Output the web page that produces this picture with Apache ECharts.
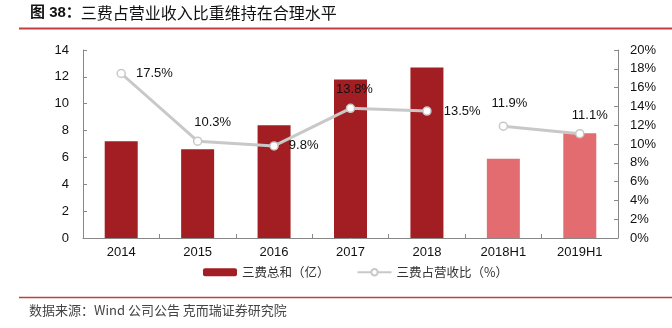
<!DOCTYPE html>
<html><head><meta charset="utf-8">
<script src="https://cdn.jsdelivr.net/npm/echarts@6/dist/echarts.min.js"></script>
<style>html,body{margin:0;padding:0;background:#fff}#c{width:672px;height:328px}</style>
</head><body><div id="c"></div>
<script>
const categories = ['2014','2015','2016','2017','2018','2018H1','2019H1'];
const expenseTotal = [7.2, 6.6, 8.4, 11.8, 12.7, 5.9, 7.8];
const expenseRatioAnnual = [17.5, 10.3, 9.8, 13.8, 13.5, null, null];
const expenseRatioHalf = [null, null, null, null, null, 11.9, 11.1];
const leftTicks = {min: 0, max: 14, interval: 2};
const rightTicks = {min: 0, max: 20, interval: 2};

const DARK = '#A21E23', LIGHT = '#E36C71', LINE = '#C8C8C8';
const labelCfg = [
  {position: 'right', distance: 10},
  {position: 'top', offset: [15, 0], distance: 8},
  {position: 'right', distance: 10},
  {position: 'top', offset: [4, 0], distance: 8},
  {position: 'right', distance: 12},
  {position: 'top', offset: [6, -3], distance: 8},
  {position: 'top', offset: [10, 0], distance: 7}
];
function lineData(arr){
  return arr.map((v,i)=> v==null ? '-' : {value: v, label: labelCfg[i]});
}
const chart = echarts.init(document.getElementById('c'));
const axisLine = {show: true, lineStyle: {color: '#888', width: 1}};
const axisTick = {show: true, inside: true, length: 4, lineStyle: {color: '#888'}};
const axisLabel = {color: '#111', fontSize: 13, fontFamily: 'Liberation Sans, Arial, sans-serif'};
const lineLabel = {show: true, color: '#111', fontSize: 13, fontFamily: 'Liberation Sans, Arial, sans-serif', formatter: p => p.value.toFixed(1) + '%'};
chart.setOption({
  animation: false,
  grid: {left: 83, right: 54, top: 50, bottom: 90, containLabel: false},
  graphic: [
    {type: 'text', left: 30, top: 5, style: {
      text: '{b|图 38：}{r|三费占营业收入比重维持在合理水平}',
      rich: {
        b: {font: 'bold 15px "Liberation Sans", "Noto Sans CJK SC", sans-serif', fill: '#111'},
        r: {font: '16px "Noto Sans CJK SC", sans-serif', fill: '#111'}
      }}},
    {type: 'line', shape: {x1: 19, y1: 28.5, x2: 672, y2: 28.5}, style: {stroke: '#C0403F', lineWidth: 2}},
    {type: 'line', shape: {x1: 19, y1: 297.5, x2: 672, y2: 297.5}, style: {stroke: '#C0403F', lineWidth: 1.5}},
    {type: 'text', left: 29, top: 304, style: {text: '数据来源：Wind 公司公告 克而瑞证券研究院', font: '13px "Noto Sans CJK SC", sans-serif', fill: '#444'}}
  ],
  legend: {
    top: 261, left: 198, itemGap: 27, itemWidth: 34, itemHeight: 8,
    textStyle: {color: '#333', fontSize: 12.5, fontFamily: '"Noto Sans CJK SC", sans-serif'},
    data: [{name: '三费总和（亿）', icon: 'roundRect'}, {name: '三费占营收比（%）'}]
  },
  xAxis: {
    type: 'category', data: categories,
    axisLine: axisLine, axisTick: Object.assign({alignWithLabel: false}, axisTick),
    axisLabel: Object.assign({margin: 8}, axisLabel)
  },
  yAxis: [
    Object.assign({type: 'value', position: 'left', splitLine: {show: false},
      axisLine: axisLine, axisTick: axisTick, axisLabel: Object.assign({margin: 14}, axisLabel)}, leftTicks),
    Object.assign({type: 'value', position: 'right', splitLine: {show: false},
      axisLine: axisLine, axisTick: axisTick,
      axisLabel: Object.assign({margin: 12, formatter: '{value}%'}, axisLabel)}, rightTicks)
  ],
  series: [
    {name: '三费总和（亿）', type: 'bar', data: expenseTotal, barWidth: 33,
      itemStyle: {color: p => p.dataIndex >= 5 ? LIGHT : DARK}, color: DARK},
    {name: '三费占营收比（%）', type: 'line', yAxisIndex: 1, data: lineData(expenseRatioAnnual),
      symbol: 'circle', symbolSize: 8, connectNulls: false,
      lineStyle: {color: LINE, width: 3}, itemStyle: {color: '#fff', borderColor: LINE, borderWidth: 1.5},
      label: lineLabel, z: 5},
    {name: '三费占营收比（%）', type: 'line', yAxisIndex: 1, data: lineData(expenseRatioHalf),
      symbol: 'circle', symbolSize: 8, connectNulls: false,
      lineStyle: {color: LINE, width: 3}, itemStyle: {color: '#fff', borderColor: LINE, borderWidth: 1.5},
      label: lineLabel, z: 5}
  ]
});
</script></body></html>
